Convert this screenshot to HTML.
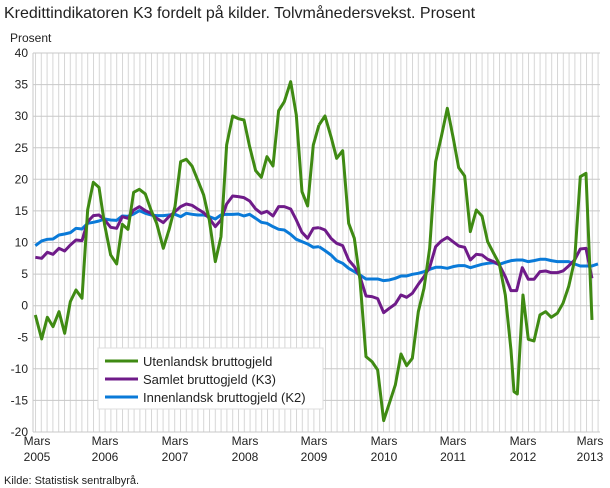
<!DOCTYPE html>
<html><head><meta charset="utf-8"><style>
html,body{margin:0;padding:0;background:#fff;}
svg{display:block;font-family:"Liberation Sans","DejaVu Sans",sans-serif;}
</style></head><body>
<svg width="610" height="488" viewBox="0 0 610 488" xmlns="http://www.w3.org/2000/svg">
<defs>
<pattern id="vp" patternUnits="userSpaceOnUse" x="35" y="0" width="5.8" height="10">
<line x1="0.5" y1="0" x2="0.5" y2="10" stroke="#d6d6d6" stroke-width="1"/>
</pattern>
</defs>
<text x="4" y="18" font-size="16" fill="#222">Kredittindikatoren K3 fordelt på kilder. Tolvmånedersvekst. Prosent</text>
<text x="10" y="42" font-size="12" fill="#222">Prosent</text>
<rect x="34" y="53" width="566" height="379" fill="url(#vp)"/>
<g stroke="#c8c8c8" stroke-width="1">
<line x1="33" y1="53" x2="600" y2="53"/><line x1="33" y1="84.6" x2="600" y2="84.6"/>
<line x1="33" y1="116.2" x2="600" y2="116.2"/><line x1="33" y1="147.8" x2="600" y2="147.8"/>
<line x1="33" y1="179.3" x2="600" y2="179.3"/><line x1="33" y1="210.9" x2="600" y2="210.9"/>
<line x1="33" y1="242.5" x2="600" y2="242.5"/><line x1="33" y1="274.1" x2="600" y2="274.1"/>
<line x1="33" y1="305.7" x2="600" y2="305.7"/><line x1="33" y1="337.3" x2="600" y2="337.3"/>
<line x1="33" y1="368.8" x2="600" y2="368.8"/><line x1="33" y1="400.4" x2="600" y2="400.4"/>
<line x1="33" y1="432" x2="600" y2="432"/>
<line x1="33" y1="53" x2="33" y2="432"/>
</g>
<g font-size="12" fill="#222" text-anchor="end">
<text x="28" y="57">40</text><text x="28" y="88.6">35</text><text x="28" y="120.2">30</text>
<text x="28" y="151.8">25</text><text x="28" y="183.3">20</text><text x="28" y="214.9">15</text>
<text x="28" y="246.5">10</text><text x="28" y="278.1">5</text><text x="28" y="309.7">0</text>
<text x="28" y="341.3">-5</text><text x="28" y="372.8">-10</text><text x="28" y="404.4">-15</text>
<text x="28" y="436">-20</text>
</g>
<g font-size="12" fill="#222" text-anchor="middle">
<text x="37" y="445">Mars</text><text x="37" y="461">2005</text>
<text x="105" y="445">Mars</text><text x="105" y="461">2006</text>
<text x="175" y="445">Mars</text><text x="175" y="461">2007</text>
<text x="245" y="445">Mars</text><text x="245" y="461">2008</text>
<text x="314" y="445">Mars</text><text x="314" y="461">2009</text>
<text x="384" y="445">Mars</text><text x="384" y="461">2010</text>
<text x="453" y="445">Mars</text><text x="453" y="461">2011</text>
<text x="523" y="445">Mars</text><text x="523" y="461">2012</text>
<text x="590" y="445">Mars</text><text x="590" y="461">2013</text>
</g>
<text x="4" y="484" font-size="11" fill="#222">Kilde: Statistisk sentralbyrå.</text>
<g fill="none" stroke-width="9" stroke-linejoin="round" transform="translate(30,40) scale(0.3333)">
<polyline stroke="#0a7ad8" points="16,617 35,603 52,598 69,597 87,585 104,582 121,578 138,565 156,567 173,550 190,547 207,543 224,537 242,540 260,541 277,528 294,529 311,522 328,512 346,520 363,525 380,527 400,527 417,525 435,523 452,530 469,520 486,523 503,525 521,525 538,530 556,537 573,525 590,523 608,523 625,522 642,528 659,523 677,535 694,547 711,550 729,560 746,568 763,570 782,583 799,598 816,605 833,612 850,622 867,620"/>
<polyline stroke="#6f1b89" points="16,652 35,655 52,637 69,643 87,625 104,633 121,615 138,600 156,602 173,545 190,527 207,525 224,540 242,562 260,565 277,530 294,535 311,510 328,500 346,512 363,520 380,535 400,548 417,530 435,515 452,500 469,492 486,496 503,507 521,518 538,535 556,560 573,540 590,492 608,468 625,470 642,473 659,483 677,507 694,520 711,514 729,528 746,500 763,500 782,507 799,540 816,577 833,595 850,565 867,563"/>
<polyline stroke="#3f8a13" points="16,825 35,897 52,832 69,860 87,815 104,880 121,785 138,750 156,775 173,510 190,427 207,442 224,555 242,645 260,672 277,553 294,568 311,457 328,448 346,462 363,510 380,550 400,625 417,570 435,500 452,365 469,358 486,378 503,420 521,465 538,540 556,665 573,590 590,315 608,228 625,236 642,240 659,320 677,392 694,412 711,350 729,378 746,212 763,185 782,125 799,225 816,455 833,498 850,315 867,255"/>
</g>
<g fill="none" stroke-width="9" stroke-linejoin="round" transform="translate(310,40) scale(0.3333)">
<polyline stroke="#0a7ad8" points="27,620 45,632 63,645 80,662 98,670 116,685 133,695 150,705 168,717 186,717 203,717 221,722 238,720 256,715 273,708 290,708 307,703 325,700 342,695 359,688 377,682 394,682 412,685 429,680 446,677 464,677 481,683 499,678 516,673 533,670 551,668 568,673 586,667 603,662 620,660 637,660 655,665 672,662 690,658 707,658 724,662 742,665 759,665 776,665 794,672 811,678 828,678 846,678 864,672"/>
<polyline stroke="#6f1b89" points="27,563 45,570 63,595 80,610 98,617 116,660 133,680 150,710 168,768 186,770 203,776 221,818 238,805 256,792 273,765 290,772 307,760 325,733 342,710 359,682 377,620 394,603 412,592 429,605 446,618 464,622 481,660 499,643 516,645 533,658 551,665 568,675 586,710 603,752 620,752 637,683 655,718 672,718 690,695 707,693 724,698 742,698 759,693 776,678 794,660 811,627 828,625 846,715"/>
<polyline stroke="#3f8a13" points="27,255 45,228 63,290 80,355 98,332 116,550 133,595 150,720 168,950 186,965 203,990 221,1142 238,1090 256,1035 273,942 290,977 307,955 325,815 342,745 359,625 377,365 394,290 412,205 429,290 446,383 464,408 481,575 499,510 516,528 533,605 551,640 568,672 586,765 603,930 612,1055 622,1062 639,765 655,898 672,903 690,825 707,815 724,832 742,820 759,790 776,740 794,660 811,410 828,400 846,840"/>
</g>
<rect x="98" y="348" width="225" height="61" fill="#fff" stroke="#ddd" stroke-width="1"/>
<g stroke-width="3">
<line x1="105" y1="361" x2="138" y2="361" stroke="#3f8a13"/>
<line x1="105" y1="379" x2="138" y2="379" stroke="#6f1b89"/>
<line x1="105" y1="397" x2="138" y2="397" stroke="#0a7ad8"/>
</g>
<g font-size="13" fill="#222">
<text x="143" y="366">Utenlandsk bruttogjeld</text>
<text x="143" y="384">Samlet bruttogjeld (K3)</text>
<text x="143" y="402">Innenlandsk bruttogjeld (K2)</text>
</g>
</svg>
</body></html>
